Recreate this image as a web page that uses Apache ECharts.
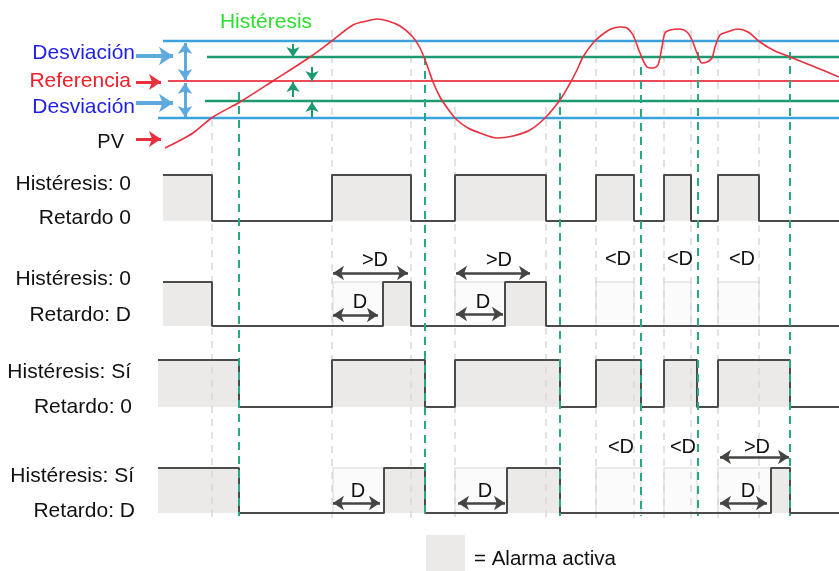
<!DOCTYPE html>
<html>
<head>
<meta charset="utf-8">
<title>Alarma de desviación</title>
<script src="https://cdn.jsdelivr.net/npm/echarts@6/dist/echarts.min.js"></script>
<style>
html, body { margin: 0; padding: 0; background: #fff; }
#main { width: 839px; height: 571px; }
</style>
</head>
<body>
<div id="main"></div>
<script>
// umbrales: desviación alta, histéresis alta, referencia, histéresis baja, desviación baja
var levelY = [41, 57, 81, 101, 118];
var levelStart = [163, 207, 168, 205, 158];
var timeEnd = 839;

// curva PV
var pvX = [165, 177, 193, 213, 240, 273, 310, 333, 353, 367, 377, 388, 400, 412, 420, 427, 433, 440, 448, 457, 468, 480, 497, 513, 530, 545, 560, 568, 577, 583, 593, 603, 611, 620, 627, 633, 640, 647, 653, 658, 662, 665, 670, 680, 687, 692, 697, 702, 707, 712, 715, 720, 727, 738, 748, 760, 773, 790, 815, 839];
var pvY = [148, 142, 133, 117, 102, 81, 57, 40, 25, 21, 19, 21, 26, 36, 48, 65, 82, 97, 109, 120, 128, 133, 138, 136, 130, 118, 100, 87, 70, 57, 43, 34, 29, 27, 28, 35, 53, 67, 68, 65, 47, 33, 30, 29, 32, 40, 53, 63, 62, 58, 47, 35, 32, 29, 32, 42, 50, 57, 67, 77];

// señales de alarma: cada fila empieza activa y cambia en cada flanco
var rowLabels = [['Histéresis: 0', 'Retardo 0'], ['Histéresis: 0', 'Retardo: D'], ['Histéresis: Sí', 'Retardo: 0'], ['Histéresis: Sí', 'Retardo: D']];
var rowStart = [163, 163, 158, 158];
var rowHigh = [175, 282, 360, 468];
var rowLow = [221, 326, 407, 513];
var rowEdges = [
    [212, 332, 411, 455, 546, 596, 634, 664, 691, 718, 759],
    [212, 383, 411, 505, 546],
    [239, 332, 425, 455, 560, 596, 641, 664, 697, 718, 790],
    [239, 384, 425, 507, 560, 771, 790]
];
// impulsos que no llegan a activar la alarma (retardo)
var ghostPulses = [
    [],
    [[333, 383], [455, 505], [596, 634], [664, 691], [718, 759]],
    [],
    [[333, 384], [455, 507], [596, 641], [664, 697], [718, 771]]
];

// líneas de referencia verticales
var grayMarks = [212, 332, 411, 455, 546, 596, 634, 664, 691, 718, 759];
var grayFrom = [120, 30, 30, 107, 107, 30, 30, 30, 30, 30, 30];
var tealMarks = [239, 425, 560, 641, 698, 790];
var tealFrom = [92, 57, 93, 67, 52, 52];

// flechas de tiempo
var timeArrows = [[333, 273, 408, 273], [333, 315, 378, 315], [456, 273, 530, 273], [456, 314, 503, 314],
    [333, 503, 380, 503], [458, 503, 505, 503], [720, 503, 767, 503], [720, 457, 789, 457]];
var timeLabels = ['>D', 'D', '>D', 'D', '<D', '<D', '<D', '<D', '<D', 'D', 'D', 'D', '>D'];
var timeLabelX = [375, 360, 499, 483, 618, 680, 742, 621, 683, 358, 485, 748, 757];
var timeLabelY = [260, 302, 260, 302, 259, 259, 259, 447, 447, 491, 491, 491, 447];

var FONT = '"Liberation Sans", Arial, sans-serif';
var chart = echarts.init(document.getElementById('main'));

function stepPoints(r) {
    var hi = rowHigh[r], lo = rowLow[r], y = hi;
    var pts = [[rowStart[r], hi]];
    rowEdges[r].forEach(function (x) {
        pts.push([x, y]);
        y = (y === hi) ? lo : hi;
        pts.push([x, y]);
    });
    pts.push([timeEnd, y]);
    return pts;
}

var fills = [];
rowEdges.forEach(function (edges, r) {
    var bounds = [rowStart[r]].concat(edges);
    for (var i = 0; i < bounds.length; i += 2) {
        var x1 = i + 1 < bounds.length ? bounds[i + 1] : timeEnd;
        fills.push([bounds[i], x1, rowHigh[r], rowLow[r]]);
    }
});
fills.push([426, 465, 535, 571]); // leyenda

var ghosts = [];
ghostPulses.forEach(function (list, r) {
    list.forEach(function (p) { ghosts.push([p[0], p[1], rowHigh[r], rowLow[r]]); });
});

function rectRender(fill, stroke) {
    return function (params, api) {
        var a = api.coord([api.value(0), api.value(2)]);
        var b = api.coord([api.value(1), api.value(3)]);
        return {
            type: 'rect',
            shape: { x: a[0], y: a[1], width: b[0] - a[0], height: b[1] - a[1] },
            style: { fill: fill, stroke: stroke, lineWidth: stroke ? 1.5 : 0 }
        };
    };
}

function segRender(color, width, dash) {
    return function (params, api) {
        var a = api.coord([api.value(0), api.value(1)]);
        var b = api.coord([api.value(2), api.value(3)]);
        return {
            type: 'line',
            shape: { x1: a[0], y1: a[1], x2: b[0], y2: b[1] },
            style: { stroke: color, lineWidth: width, lineDash: dash }
        };
    };
}

var texts = [
    { t: 'Histéresis', x: 266, y: 22, c: '#2ee02e', s: 21, a: 'center' },
    { t: 'Desviación', x: 135, y: 53, c: '#1f1fe6', s: 21, a: 'right' },
    { t: 'Referencia', x: 131, y: 81, c: '#f0202a', s: 21, a: 'right' },
    { t: 'Desviación', x: 135, y: 107, c: '#1f1fe6', s: 21, a: 'right' },
    { t: 'PV', x: 124, y: 142, c: '#111', s: 20, a: 'right' },
    { t: '= Alarma activa', x: 474, y: 559, c: '#111', s: 20.5, a: 'left' }
];
var rowLabelY = [[184, 218], [279, 315], [372, 407], [476, 511]];
var rowLabelX = [[131, 131], [131, 131], [131, 132], [134, 135]];
rowLabels.forEach(function (pair, r) {
    texts.push({ t: pair[0], x: rowLabelX[r][0], y: rowLabelY[r][0], c: '#111', s: 21, a: 'right' });
    texts.push({ t: pair[1], x: rowLabelX[r][1], y: rowLabelY[r][1], c: '#111', s: 21, a: 'right' });
});
timeLabels.forEach(function (t, i) {
    texts.push({ t: t, x: timeLabelX[i], y: timeLabelY[i], c: '#111', s: 20, a: 'center' });
});

function arrowSeries(data, color, width, size, both) {
    return {
        type: 'lines',
        coordinateSystem: 'cartesian2d',
        symbol: both ? ['arrow', 'arrow'] : ['none', 'arrow'],
        symbolSize: size,
        z: 8,
        lineStyle: { color: color, width: width, opacity: 1, curveness: 0 },
        data: data.map(function (d) { return { coords: [[d[0], d[1]], [d[2], d[3]]] }; })
    };
}

var series = [
    { type: 'custom', z: 1, clip: false, encode: { x: [0, 1], y: [2, 3] },
      renderItem: rectRender('#ebeae8', null), data: fills },
    { type: 'custom', z: 1, clip: false, encode: { x: [0, 1], y: [2, 3] },
      renderItem: rectRender('#fbfbfb', '#e4e4e4'), data: ghosts },
    { type: 'custom', z: 2, clip: false, encode: { x: [0, 2], y: [1, 3] },
      renderItem: segRender('#d9d9d9', 1.5, [7, 6]),
      data: grayMarks.map(function (x, i) { return [x, grayFrom[i], x, 520]; }) },
    { type: 'custom', z: 3, clip: false, encode: { x: [0, 2], y: [1, 3] },
      renderItem: function (params, api) {
          var i = params.dataIndex;
          var colors = ['#3ba2dc', '#1c9a72', '#ee4a58', '#1c9a72', '#3ba2dc'];
          var a = api.coord([api.value(0), api.value(1)]);
          var b = api.coord([api.value(2), api.value(3)]);
          return { type: 'line', shape: { x1: a[0], y1: a[1], x2: b[0], y2: b[1] },
                   style: { stroke: colors[i], lineWidth: i === 2 ? 2 : 2.5 } };
      },
      data: levelY.map(function (y, i) { return [levelStart[i], y, timeEnd, y]; }) },
    { type: 'custom', z: 6, clip: false, encode: { x: [0, 2], y: [1, 3] },
      renderItem: segRender('#26a987', 2, [8, 6]),
      data: tealMarks.map(function (x, i) { return [x, tealFrom[i], x, 516]; }) },
    { type: 'line', z: 7, smooth: 0.3, symbol: 'none', silent: true,
      lineStyle: { color: '#e8303e', width: 1.6 },
      data: pvX.map(function (x, i) { return [x, pvY[i]]; }) }
];
rowEdges.forEach(function (e, r) {
    series.push({ type: 'line', z: 5, symbol: 'none', silent: true,
        lineStyle: { color: '#4b4b49', width: 2 }, data: stepPoints(r) });
});
series.push(arrowSeries([[136, 56, 173, 56], [136, 103, 173, 103]], '#5eaade', 4, 14, false));
series.push(arrowSeries([[185, 43, 185, 80], [185, 83, 185, 117]], '#5eaade', 3, 11, true));
series.push(arrowSeries([[136, 82, 161, 82], [136, 139, 161, 139]], '#e8303e', 3, 12, false));
series.push(arrowSeries([[293, 44, 293, 57], [312, 67, 312, 81], [293, 97, 293, 82], [312, 117, 312, 102]], '#1c9a72', 2, 10, false));
series.push(arrowSeries(timeArrows, '#444442', 2.5, 11, true));
series.push({
    type: 'custom', z: 9, clip: false, encode: { x: 0, y: 1 },
    data: texts.map(function (d) { return [d.x, d.y]; }),
    renderItem: function (params, api) {
        var d = texts[params.dataIndex];
        var p = api.coord([api.value(0), api.value(1)]);
        return { type: 'text', x: p[0], y: p[1],
                 style: { text: d.t, fill: d.c, fontSize: d.s, fontFamily: FONT, align: d.a, verticalAlign: 'middle' } };
    }
});

chart.setOption({
    animation: false,
    grid: { left: 0, right: 0, top: 0, bottom: 0 },
    xAxis: { type: 'value', min: 0, max: 839, show: false },
    yAxis: { type: 'value', min: 0, max: 571, inverse: true, show: false },
    series: series
});
</script>
</body>
</html>
